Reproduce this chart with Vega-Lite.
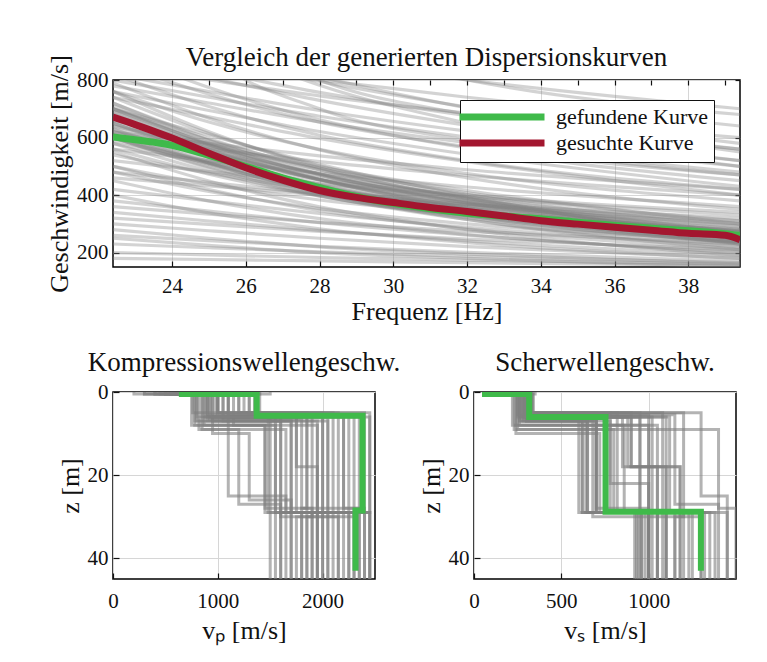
{
"$schema": "https://vega.github.io/schema/vega-lite/v6.json",
"background": "white",
"padding": {"left": 45, "top": 42, "right": 5, "bottom": 5},
"config": {
 "font": "Liberation Serif",
 "view": {"stroke": "black", "strokeWidth": 1.5},
 "axis": {"labelFont": "Liberation Serif", "titleFont": "Liberation Serif", "labelFontSize": 21, "titleFontSize": 26, "titleFontWeight": "normal", "labelColor": "#111", "titleColor": "#111", "domain": false, "tickColor": "#111", "tickSize": -6, "tickWidth": 1.2, "labelPadding": 11, "gridColor": "#d6d6d6", "gridWidth": 1, "labelOverlap": false, "labelFlush": false},
 "axisX": {"labelPadding": 17, "titlePadding": 6},
 "title": {"font": "Liberation Serif", "fontWeight": "normal", "fontSize": 27, "color": "#111"},
 "legend": {"labelFont": "Liberation Serif"}
},
"datasets": {
 "disp": [
{"c":1,"f":22.4,"v":680},{"c":1,"f":25,"v":560},{"c":1,"f":28,"v":452},{"c":1,"f":32,"v":358},{"c":1,"f":39.4,"v":250},
{"c":2,"f":22.4,"v":650},{"c":2,"f":25,"v":535},{"c":2,"f":28,"v":433},{"c":2,"f":32,"v":343},{"c":2,"f":39.4,"v":240},
{"c":3,"f":22.4,"v":700},{"c":3,"f":25,"v":578},{"c":3,"f":28,"v":469},{"c":3,"f":32,"v":374},{"c":3,"f":39.4,"v":265},
{"c":4,"f":22.4,"v":620},{"c":4,"f":25,"v":511},{"c":4,"f":28,"v":413},{"c":4,"f":32,"v":328},{"c":4,"f":39.4,"v":230},
{"c":5,"f":22.4,"v":720},{"c":5,"f":25,"v":597},{"c":5,"f":28,"v":487},{"c":5,"f":32,"v":390},{"c":5,"f":39.4,"v":280},
{"c":6,"f":22.4,"v":600},{"c":6,"f":25,"v":494},{"c":6,"f":28,"v":399},{"c":6,"f":32,"v":315},{"c":6,"f":39.4,"v":220},
{"c":7,"f":22.4,"v":660},{"c":7,"f":25,"v":551},{"c":7,"f":28,"v":453},{"c":7,"f":32,"v":368},{"c":7,"f":39.4,"v":270},
{"c":8,"f":22.4,"v":640},{"c":8,"f":25,"v":532},{"c":8,"f":28,"v":436},{"c":8,"f":32,"v":351},{"c":8,"f":39.4,"v":255},
{"c":9,"f":22.4,"v":690},{"c":9,"f":25,"v":565},{"c":9,"f":28,"v":454},{"c":9,"f":32,"v":356},{"c":9,"f":39.4,"v":245},
{"c":10,"f":22.4,"v":610},{"c":10,"f":25,"v":512},{"c":10,"f":28,"v":425},{"c":10,"f":32,"v":348},{"c":10,"f":39.4,"v":260},
{"c":11,"f":22.4,"v":740},{"c":11,"f":25,"v":614},{"c":11,"f":28,"v":502},{"c":11,"f":32,"v":403},{"c":11,"f":39.4,"v":290},
{"c":12,"f":22.4,"v":580},{"c":12,"f":25,"v":483},{"c":12,"f":28,"v":397},{"c":12,"f":32,"v":321},{"c":12,"f":39.4,"v":235},
{"c":13,"f":22.4,"v":670},{"c":13,"f":25,"v":566},{"c":13,"f":28,"v":474},{"c":13,"f":32,"v":393},{"c":13,"f":39.4,"v":300},
{"c":14,"f":22.4,"v":630},{"c":14,"f":25,"v":512},{"c":14,"f":28,"v":407},{"c":14,"f":32,"v":315},{"c":14,"f":39.4,"v":210},
{"c":15,"f":22.4,"v":710},{"c":15,"f":25,"v":576},{"c":15,"f":28,"v":456},{"c":15,"f":32,"v":350},{"c":15,"f":39.4,"v":230},
{"c":16,"f":22.4,"v":560},{"c":16,"f":25,"v":473},{"c":16,"f":28,"v":396},{"c":16,"f":32,"v":328},{"c":16,"f":39.4,"v":250},
{"c":17,"f":22.4,"v":650},{"c":17,"f":25,"v":546},{"c":17,"f":28,"v":454},{"c":17,"f":32,"v":373},{"c":17,"f":39.4,"v":280},
{"c":18,"f":22.4,"v":700},{"c":18,"f":25,"v":591},{"c":18,"f":28,"v":493},{"c":18,"f":32,"v":408},{"c":18,"f":39.4,"v":310},
{"c":19,"f":22.4,"v":600},{"c":19,"f":25,"v":509},{"c":19,"f":28,"v":428},{"c":19,"f":32,"v":356},{"c":19,"f":39.4,"v":275},
{"c":20,"f":22.4,"v":760},{"c":20,"f":25,"v":620},{"c":20,"f":28,"v":495},{"c":20,"f":32,"v":385},{"c":20,"f":39.4,"v":260},
{"c":21,"f":22.4,"v":660},{"c":21,"f":25,"v":578},{"c":21,"f":28,"v":488},{"c":21,"f":32,"v":389},{"c":21,"f":39.4,"v":250},
{"c":22,"f":22.4,"v":620},{"c":22,"f":25,"v":550},{"c":22,"f":28,"v":473},{"c":22,"f":32,"v":389},{"c":22,"f":39.4,"v":270},
{"c":23,"f":22.4,"v":700},{"c":23,"f":25,"v":608},{"c":23,"f":28,"v":507},{"c":23,"f":32,"v":396},{"c":23,"f":39.4,"v":240},
{"c":24,"f":22.4,"v":590},{"c":24,"f":25,"v":518},{"c":24,"f":28,"v":439},{"c":24,"f":32,"v":352},{"c":24,"f":39.4,"v":230},
{"c":25,"f":22.4,"v":640},{"c":25,"f":25,"v":572},{"c":25,"f":28,"v":497},{"c":25,"f":32,"v":416},{"c":25,"f":39.4,"v":300},
{"c":26,"f":22.4,"v":820},{"c":26,"f":25,"v":760},{"c":26,"f":28,"v":694},{"c":26,"f":32,"v":622},{"c":26,"f":39.4,"v":520},
{"c":27,"f":22.4,"v":900},{"c":27,"f":25,"v":832},{"c":27,"f":28,"v":757},{"c":27,"f":32,"v":676},{"c":27,"f":39.4,"v":560},
{"c":28,"f":22.4,"v":780},{"c":28,"f":25,"v":720},{"c":28,"f":28,"v":654},{"c":28,"f":32,"v":582},{"c":28,"f":39.4,"v":480},
{"c":29,"f":22.4,"v":850},{"c":29,"f":25,"v":800},{"c":29,"f":28,"v":745},{"c":29,"f":32,"v":685},{"c":29,"f":39.4,"v":600},
{"c":30,"f":22.4,"v":760},{"c":30,"f":25,"v":694},{"c":30,"f":28,"v":621},{"c":30,"f":32,"v":542},{"c":30,"f":39.4,"v":430},
{"c":31,"f":22.4,"v":950},{"c":31,"f":25,"v":876},{"c":31,"f":28,"v":795},{"c":31,"f":32,"v":706},{"c":31,"f":39.4,"v":580},
{"c":32,"f":22.4,"v":800},{"c":32,"f":25,"v":740},{"c":32,"f":28,"v":674},{"c":32,"f":32,"v":602},{"c":32,"f":39.4,"v":500},
{"c":33,"f":22.4,"v":740},{"c":33,"f":25,"v":672},{"c":33,"f":28,"v":597},{"c":33,"f":32,"v":516},{"c":33,"f":39.4,"v":400},
{"c":34,"f":22.4,"v":880},{"c":34,"f":25,"v":808},{"c":34,"f":28,"v":729},{"c":34,"f":32,"v":642},{"c":34,"f":39.4,"v":520},
{"c":35,"f":22.4,"v":1000},{"c":35,"f":25,"v":910},{"c":35,"f":28,"v":811},{"c":35,"f":32,"v":703},{"c":35,"f":39.4,"v":550},
{"c":36,"f":22.4,"v":820},{"c":36,"f":25,"v":708},{"c":36,"f":28,"v":608},{"c":36,"f":32,"v":520},{"c":36,"f":39.4,"v":420},
{"c":37,"f":22.4,"v":900},{"c":37,"f":25,"v":774},{"c":37,"f":28,"v":662},{"c":37,"f":32,"v":563},{"c":37,"f":39.4,"v":450},
{"c":38,"f":22.4,"v":760},{"c":38,"f":25,"v":654},{"c":38,"f":28,"v":559},{"c":38,"f":32,"v":475},{"c":38,"f":39.4,"v":380},
{"c":39,"f":22.4,"v":860},{"c":39,"f":25,"v":751},{"c":39,"f":28,"v":653},{"c":39,"f":32,"v":568},{"c":39,"f":39.4,"v":470},
{"c":40,"f":22.4,"v":1100},{"c":40,"f":25,"v":932},{"c":40,"f":28,"v":782},{"c":40,"f":32,"v":650},{"c":40,"f":39.4,"v":500},
{"c":41,"f":22.4,"v":790},{"c":41,"f":25,"v":667},{"c":41,"f":28,"v":557},{"c":41,"f":32,"v":460},{"c":41,"f":39.4,"v":350},
{"c":42,"f":22.4,"v":520},{"c":42,"f":25,"v":482},{"c":42,"f":28,"v":440},{"c":42,"f":32,"v":395},{"c":42,"f":39.4,"v":330},
{"c":43,"f":22.4,"v":560},{"c":43,"f":25,"v":520},{"c":43,"f":28,"v":476},{"c":43,"f":32,"v":428},{"c":43,"f":39.4,"v":360},
{"c":44,"f":22.4,"v":480},{"c":44,"f":25,"v":444},{"c":44,"f":28,"v":404},{"c":44,"f":32,"v":361},{"c":44,"f":39.4,"v":300},
{"c":45,"f":22.4,"v":600},{"c":45,"f":25,"v":560},{"c":45,"f":28,"v":516},{"c":45,"f":32,"v":468},{"c":45,"f":39.4,"v":400},
{"c":46,"f":22.4,"v":540},{"c":46,"f":25,"v":476},{"c":46,"f":28,"v":418},{"c":46,"f":32,"v":368},{"c":46,"f":39.4,"v":310},
{"c":47,"f":22.4,"v":500},{"c":47,"f":25,"v":438},{"c":47,"f":28,"v":383},{"c":47,"f":32,"v":335},{"c":47,"f":39.4,"v":280},
{"c":48,"f":22.4,"v":580},{"c":48,"f":25,"v":513},{"c":48,"f":28,"v":453},{"c":48,"f":32,"v":400},{"c":48,"f":39.4,"v":340},
{"c":49,"f":22.4,"v":460},{"c":49,"f":25,"v":432},{"c":49,"f":28,"v":401},{"c":49,"f":32,"v":368},{"c":49,"f":39.4,"v":320},
{"c":50,"f":22.4,"v":620},{"c":50,"f":25,"v":580},{"c":50,"f":28,"v":536},{"c":50,"f":32,"v":488},{"c":50,"f":39.4,"v":420},
{"c":51,"f":22.4,"v":420},{"c":51,"f":25,"v":380},{"c":51,"f":28,"v":336},{"c":51,"f":32,"v":288},{"c":51,"f":39.4,"v":220},
{"c":52,"f":22.4,"v":380},{"c":52,"f":25,"v":344},{"c":52,"f":28,"v":304},{"c":52,"f":32,"v":261},{"c":52,"f":39.4,"v":200},
{"c":53,"f":22.4,"v":340},{"c":53,"f":25,"v":310},{"c":53,"f":28,"v":277},{"c":53,"f":32,"v":241},{"c":53,"f":39.4,"v":190},
{"c":54,"f":22.4,"v":300},{"c":54,"f":25,"v":276},{"c":54,"f":28,"v":250},{"c":54,"f":32,"v":221},{"c":54,"f":39.4,"v":180},
{"c":55,"f":22.4,"v":260},{"c":55,"f":25,"v":242},{"c":55,"f":28,"v":222},{"c":55,"f":32,"v":201},{"c":55,"f":39.4,"v":170},
{"c":56,"f":22.4,"v":450},{"c":56,"f":25,"v":380},{"c":56,"f":28,"v":318},{"c":56,"f":32,"v":263},{"c":56,"f":39.4,"v":200},
{"c":57,"f":22.4,"v":400},{"c":57,"f":25,"v":338},{"c":57,"f":28,"v":283},{"c":57,"f":32,"v":235},{"c":57,"f":39.4,"v":180},
{"c":58,"f":22.4,"v":500},{"c":58,"f":25,"v":419},{"c":58,"f":28,"v":346},{"c":58,"f":32,"v":283},{"c":58,"f":39.4,"v":210},
{"c":59,"f":22.4,"v":230},{"c":59,"f":25,"v":217},{"c":59,"f":28,"v":203},{"c":59,"f":32,"v":187},{"c":59,"f":39.4,"v":165},
{"c":60,"f":22.4,"v":360},{"c":60,"f":25,"v":334},{"c":60,"f":28,"v":305},{"c":60,"f":32,"v":274},{"c":60,"f":39.4,"v":230},
{"c":61,"f":22.4,"v":200},{"c":61,"f":25,"v":192},{"c":61,"f":28,"v":183},{"c":61,"f":32,"v":174},{"c":61,"f":39.4,"v":160},
{"c":62,"f":22.4,"v":480},{"c":62,"f":25,"v":413},{"c":62,"f":28,"v":353},{"c":62,"f":32,"v":300},{"c":62,"f":39.4,"v":240},
{"c":63,"f":22.4,"v":320},{"c":63,"f":25,"v":298},{"c":63,"f":28,"v":274},{"c":63,"f":32,"v":247},{"c":63,"f":39.4,"v":210},
{"c":64,"f":22.4,"v":550},{"c":64,"f":25,"v":449},{"c":64,"f":28,"v":359},{"c":64,"f":32,"v":280},{"c":64,"f":39.4,"v":190},
{"c":65,"f":22.4,"v":1200},{"c":65,"f":25,"v":1050},{"c":65,"f":28,"v":920},{"c":65,"f":32,"v":800},{"c":65,"f":39.4,"v":680},
{"c":66,"f":22.4,"v":980},{"c":66,"f":25,"v":930},{"c":66,"f":28,"v":870},{"c":66,"f":32,"v":800},{"c":66,"f":39.4,"v":700},
{"c":67,"f":22.4,"v":870},{"c":67,"f":25,"v":840},{"c":67,"f":28,"v":800},{"c":67,"f":32,"v":740},{"c":67,"f":39.4,"v":640},
{"c":68,"f":22.4,"v":1300},{"c":68,"f":25,"v":1000},{"c":68,"f":28,"v":800},{"c":68,"f":32,"v":680},{"c":68,"f":39.4,"v":560},
{"c":69,"f":22.4,"v":1500},{"c":69,"f":25,"v":900},{"c":69,"f":28,"v":700},{"c":69,"f":32,"v":590},{"c":69,"f":39.4,"v":470},
{"c":70,"f":22.4,"v":180},{"c":70,"f":25,"v":176},{"c":70,"f":28,"v":171},{"c":70,"f":32,"v":165},{"c":70,"f":39.4,"v":155},
{"c":71,"f":22.4,"v":250},{"c":71,"f":25,"v":225},{"c":71,"f":28,"v":200},{"c":71,"f":32,"v":180},{"c":71,"f":39.4,"v":150},
{"c":72,"f":22.4,"v":280},{"c":72,"f":25,"v":250},{"c":72,"f":28,"v":220},{"c":72,"f":32,"v":195},{"c":72,"f":39.4,"v":160},
{"c":73,"f":22.4,"v":670},{"c":73,"f":25,"v":556},{"c":73,"f":28,"v":454},{"c":73,"f":32,"v":364},{"c":73,"f":39.4,"v":262},
{"c":74,"f":22.4,"v":630},{"c":74,"f":25,"v":524},{"c":74,"f":28,"v":429},{"c":74,"f":32,"v":345},{"c":74,"f":39.4,"v":250},
{"c":75,"f":22.4,"v":690},{"c":75,"f":25,"v":574},{"c":75,"f":28,"v":470},{"c":75,"f":32,"v":379},{"c":75,"f":39.4,"v":275},
{"c":76,"f":22.4,"v":610},{"c":76,"f":25,"v":506},{"c":76,"f":28,"v":414},{"c":76,"f":32,"v":333},{"c":76,"f":39.4,"v":240},
{"c":77,"f":22.4,"v":720},{"c":77,"f":25,"v":590},{"c":77,"f":28,"v":474},{"c":77,"f":32,"v":371},{"c":77,"f":39.4,"v":255},
{"c":78,"f":22.4,"v":650},{"c":78,"f":25,"v":549},{"c":78,"f":28,"v":459},{"c":78,"f":32,"v":380},{"c":78,"f":39.4,"v":290},
{"c":79,"f":22.4,"v":600},{"c":79,"f":25,"v":498},{"c":79,"f":28,"v":407},{"c":79,"f":32,"v":326},{"c":79,"f":39.4,"v":235},
{"c":80,"f":22.4,"v":700},{"c":80,"f":25,"v":580},{"c":80,"f":28,"v":472},{"c":80,"f":32,"v":378},{"c":80,"f":39.4,"v":270}
 ],
 "ref": [
{"k":"gefundene Kurve","f":22.4,"v":602},{"k":"gefundene Kurve","f":23,"v":592},{"k":"gefundene Kurve","f":24,"v":573},{"k":"gefundene Kurve","f":25,"v":538},{"k":"gefundene Kurve","f":26,"v":500},{"k":"gefundene Kurve","f":27,"v":460},{"k":"gefundene Kurve","f":28,"v":426},{"k":"gefundene Kurve","f":29,"v":395},{"k":"gefundene Kurve","f":30,"v":371},{"k":"gefundene Kurve","f":31,"v":352},{"k":"gefundene Kurve","f":32,"v":337},{"k":"gefundene Kurve","f":33,"v":327},{"k":"gefundene Kurve","f":34,"v":318},{"k":"gefundene Kurve","f":35,"v":306},{"k":"gefundene Kurve","f":36,"v":294},{"k":"gefundene Kurve","f":37,"v":285},{"k":"gefundene Kurve","f":38,"v":276},{"k":"gefundene Kurve","f":39,"v":266},{"k":"gefundene Kurve","f":39.4,"v":260},
{"k":"gesuchte Kurve","f":22.4,"v":671},{"k":"gesuchte Kurve","f":23,"v":645},{"k":"gesuchte Kurve","f":24,"v":598},{"k":"gesuchte Kurve","f":25,"v":545},{"k":"gesuchte Kurve","f":26,"v":495},{"k":"gesuchte Kurve","f":27,"v":452},{"k":"gesuchte Kurve","f":28,"v":416},{"k":"gesuchte Kurve","f":29,"v":392},{"k":"gesuchte Kurve","f":30,"v":374},{"k":"gesuchte Kurve","f":31,"v":357},{"k":"gesuchte Kurve","f":32,"v":343},{"k":"gesuchte Kurve","f":33,"v":327},{"k":"gesuchte Kurve","f":34,"v":311},{"k":"gesuchte Kurve","f":35,"v":299},{"k":"gesuchte Kurve","f":36,"v":288},{"k":"gesuchte Kurve","f":37,"v":278},{"k":"gesuchte Kurve","f":38,"v":267},{"k":"gesuchte Kurve","f":39,"v":260},{"k":"gesuchte Kurve","f":39.4,"v":245}
 ],
 "vp": [
{"p":1,"z":0,"v":400},{"p":1,"z":0.5,"v":800},{"p":1,"z":6,"v":1500},{"p":1,"z":29,"v":1800},{"p":1,"z":45,"v":1800},
{"p":2,"z":0,"v":600},{"p":2,"z":0.5,"v":900},{"p":2,"z":7,"v":1700},{"p":2,"z":29,"v":2000},{"p":2,"z":45,"v":2000},
{"p":3,"z":0,"v":200},{"p":3,"z":0.5,"v":750},{"p":3,"z":8,"v":1450},{"p":3,"z":28,"v":1900},{"p":3,"z":45,"v":1900},
{"p":4,"z":0,"v":900},{"p":4,"z":0.5,"v":1000},{"p":4,"z":5,"v":2100},{"p":4,"z":29,"v":2300},{"p":4,"z":45,"v":2300},
{"p":5,"z":0,"v":1200},{"p":5,"z":0.5,"v":1300},{"p":5,"z":6,"v":2450},{"p":5,"z":29,"v":2450},{"p":5,"z":45,"v":2450},
{"p":6,"z":0,"v":700},{"p":6,"z":0.5,"v":850},{"p":6,"z":9,"v":1200},{"p":6,"z":27,"v":1600},{"p":6,"z":45,"v":1600},
{"p":7,"z":0,"v":500},{"p":7,"z":0.5,"v":1100},{"p":7,"z":5.5,"v":1900},{"p":7,"z":30,"v":1850},{"p":7,"z":45,"v":1850},
{"p":8,"z":0,"v":1000},{"p":8,"z":0.5,"v":1400},{"p":8,"z":6,"v":2200},{"p":8,"z":28,"v":2400},{"p":8,"z":45,"v":2400},
{"p":9,"z":0,"v":800},{"p":9,"z":0.5,"v":950},{"p":9,"z":10,"v":1300},{"p":9,"z":26,"v":1700},{"p":9,"z":45,"v":1700},
{"p":10,"z":0,"v":1400},{"p":10,"z":0.5,"v":780},{"p":10,"z":7,"v":1600},{"p":10,"z":29,"v":1950},{"p":10,"z":45,"v":1950},
{"p":11,"z":0,"v":650},{"p":11,"z":0.5,"v":1200},{"p":11,"z":5,"v":2000},{"p":11,"z":29,"v":2200},{"p":11,"z":45,"v":2200},
{"p":12,"z":0,"v":300},{"p":12,"z":0.5,"v":870},{"p":12,"z":8,"v":1550},{"p":12,"z":29,"v":2100},{"p":12,"z":45,"v":2100},
{"p":13,"z":0,"v":1100},{"p":13,"z":0.5,"v":1350},{"p":13,"z":5.5,"v":2300},{"p":13,"z":30,"v":1750},{"p":13,"z":45,"v":1750},
{"p":14,"z":0,"v":750},{"p":14,"z":0.5,"v":920},{"p":14,"z":6.5,"v":1800},{"p":14,"z":28,"v":2350},{"p":14,"z":45,"v":2350},
{"p":15,"z":0,"v":550},{"p":15,"z":0.5,"v":1050},{"p":15,"z":7,"v":1100},{"p":15,"z":25,"v":1650},{"p":15,"z":45,"v":1650},
{"p":16,"z":0,"v":950},{"p":16,"z":0.5,"v":820},{"p":16,"z":9,"v":1650},{"p":16,"z":29,"v":2450},{"p":16,"z":45,"v":2450},
{"p":17,"z":0,"v":1300},{"p":17,"z":0.5,"v":1250},{"p":17,"z":5,"v":2400},{"p":17,"z":29,"v":2250},{"p":17,"z":45,"v":2250},
{"p":18,"z":0,"v":450},{"p":18,"z":0.5,"v":980},{"p":18,"z":6,"v":1750},{"p":18,"z":18,"v":1950},{"p":18,"z":45,"v":1950},
{"p":19,"z":0,"v":850},{"p":19,"z":0.5,"v":1150},{"p":19,"z":8,"v":1950},{"p":19,"z":29,"v":2050},{"p":19,"z":45,"v":2050},
{"p":20,"z":0,"v":1500},{"p":20,"z":0.5,"v":760},{"p":20,"z":5,"v":1480},{"p":20,"z":29,"v":1500},{"p":20,"z":45,"v":1500},
{"p":21,"z":0,"v":700},{"p":21,"z":0.5,"v":900},{"p":21,"z":5.5,"v":2250},{"p":21,"z":29,"v":1900},{"p":21,"z":45,"v":1900},
{"p":22,"z":0,"v":900},{"p":22,"z":0.5,"v":1050},{"p":22,"z":6,"v":1600},{"p":22,"z":30,"v":2150},{"p":22,"z":45,"v":2150},
{"p":23,"z":0,"v":600},{"p":23,"z":0.5,"v":800},{"p":23,"z":7,"v":2050},{"p":23,"z":29,"v":1600},{"p":23,"z":45,"v":1600},
{"p":24,"z":0,"v":1100},{"p":24,"z":0.5,"v":1000},{"p":24,"z":5,"v":1850},{"p":24,"z":29,"v":2300},{"p":24,"z":45,"v":2300},
{"p":25,"z":0,"v":800},{"p":25,"z":0.5,"v":900},{"p":25,"z":6,"v":1550},{"p":25,"z":29,"v":2450},{"p":25,"z":45,"v":2450},
{"p":26,"z":0,"v":400},{"p":26,"z":0.5,"v":1000},{"p":26,"z":5,"v":2150},{"p":26,"z":29,"v":1700},{"p":26,"z":45,"v":1700},
{"p":27,"z":0,"v":1000},{"p":27,"z":0.5,"v":850},{"p":27,"z":6,"v":1750},{"p":27,"z":29,"v":2150},{"p":27,"z":45,"v":2150},
{"p":28,"z":0,"v":700},{"p":28,"z":0.5,"v":1300},{"p":28,"z":5.5,"v":2350},{"p":28,"z":29,"v":2000},{"p":28,"z":45,"v":2000},
{"p":29,"z":0,"v":500},{"p":29,"z":0.5,"v":950},{"p":29,"z":7,"v":1950},{"p":29,"z":29,"v":1850},{"p":29,"z":45,"v":1850},
{"p":30,"z":0,"v":1200},{"p":30,"z":0.5,"v":1100},{"p":30,"z":6,"v":2050},{"p":30,"z":29,"v":2350},{"p":30,"z":45,"v":2350},
{"p":31,"z":0,"v":900},{"p":31,"z":0.5,"v":780},{"p":31,"z":8,"v":1450},{"p":31,"z":29,"v":1550},{"p":31,"z":45,"v":1550},
{"p":32,"z":0,"v":300},{"p":32,"z":0.5,"v":1200},{"p":32,"z":5,"v":2450},{"p":32,"z":29,"v":2250},{"p":32,"z":45,"v":2250},
{"p":33,"z":0,"v":650},{"p":33,"z":0.5,"v":880},{"p":33,"z":6,"v":1850},{"p":33,"z":28,"v":1800},{"p":33,"z":45,"v":1800},
{"p":34,"z":0,"v":1150},{"p":34,"z":0.5,"v":1000},{"p":34,"z":5.5,"v":2200},{"p":34,"z":29,"v":2050},{"p":34,"z":45,"v":2050},
{"p":35,"z":0,"v":850},{"p":35,"z":0.5,"v":1100},{"p":35,"z":7,"v":1700},{"p":35,"z":29,"v":2400},{"p":35,"z":45,"v":2400},
{"p":36,"z":0,"v":550},{"p":36,"z":0.5,"v":930},{"p":36,"z":6,"v":2000},{"p":36,"z":29,"v":1950},{"p":36,"z":45,"v":1950}
 ],
 "vpg": [
{"z":0,"v":657},{"z":0.5,"v":1371},{"z":5.7,"v":2381},{"z":28.5,"v":2314},{"z":43,"v":2314}
 ],
 "vs": [
{"p":1,"z":0,"v":100},{"p":1,"z":0.5,"v":250},{"p":1,"z":6,"v":650},{"p":1,"z":29,"v":950},{"p":1,"z":45,"v":950},
{"p":2,"z":0,"v":200},{"p":2,"z":0.5,"v":300},{"p":2,"z":7,"v":700},{"p":2,"z":28,"v":1000},{"p":2,"z":45,"v":1000},
{"p":3,"z":0,"v":150},{"p":3,"z":0.5,"v":230},{"p":3,"z":9,"v":800},{"p":3,"z":29,"v":1100},{"p":3,"z":45,"v":1100},
{"p":4,"z":0,"v":300},{"p":4,"z":0.5,"v":330},{"p":4,"z":5,"v":900},{"p":4,"z":18,"v":1050},{"p":4,"z":45,"v":1050},
{"p":5,"z":0,"v":80},{"p":5,"z":0.5,"v":280},{"p":5,"z":6,"v":620},{"p":5,"z":29,"v":920},{"p":5,"z":45,"v":920},
{"p":6,"z":0,"v":250},{"p":6,"z":0.5,"v":260},{"p":6,"z":8,"v":1000},{"p":6,"z":29,"v":1200},{"p":6,"z":45,"v":1200},
{"p":7,"z":0,"v":350},{"p":7,"z":0.5,"v":310},{"p":7,"z":5.5,"v":1150},{"p":7,"z":27,"v":1400},{"p":7,"z":45,"v":1400},
{"p":8,"z":0,"v":120},{"p":8,"z":0.5,"v":240},{"p":8,"z":10,"v":720},{"p":8,"z":29,"v":980},{"p":8,"z":45,"v":980},
{"p":9,"z":0,"v":180},{"p":9,"z":0.5,"v":290},{"p":9,"z":6,"v":850},{"p":9,"z":18,"v":1100},{"p":9,"z":45,"v":1100},
{"p":10,"z":0,"v":220},{"p":10,"z":0.5,"v":340},{"p":10,"z":5,"v":1300},{"p":10,"z":25,"v":1450},{"p":10,"z":45,"v":1450},
{"p":11,"z":0,"v":60},{"p":11,"z":0.5,"v":270},{"p":11,"z":7,"v":680},{"p":11,"z":30,"v":1300},{"p":11,"z":45,"v":1300},
{"p":12,"z":0,"v":280},{"p":12,"z":0.5,"v":320},{"p":12,"z":6,"v":950},{"p":12,"z":29,"v":1050},{"p":12,"z":45,"v":1050},
{"p":13,"z":0,"v":330},{"p":13,"z":0.5,"v":250},{"p":13,"z":9,"v":1400},{"p":13,"z":28,"v":1500},{"p":13,"z":45,"v":1500},
{"p":14,"z":0,"v":140},{"p":14,"z":0.5,"v":300},{"p":14,"z":5.5,"v":760},{"p":14,"z":29,"v":1250},{"p":14,"z":45,"v":1250},
{"p":15,"z":0,"v":260},{"p":15,"z":0.5,"v":220},{"p":15,"z":8,"v":1050},{"p":15,"z":29,"v":1350},{"p":15,"z":45,"v":1350},
{"p":16,"z":0,"v":90},{"p":16,"z":0.5,"v":285},{"p":16,"z":6.5,"v":600},{"p":16,"z":29,"v":930},{"p":16,"z":45,"v":930},
{"p":17,"z":0,"v":310},{"p":17,"z":0.5,"v":335},{"p":17,"z":5,"v":1200},{"p":17,"z":30,"v":1150},{"p":17,"z":45,"v":1150},
{"p":18,"z":0,"v":170},{"p":18,"z":0.5,"v":260},{"p":18,"z":7,"v":780},{"p":18,"z":22,"v":1000},{"p":18,"z":45,"v":1000},
{"p":19,"z":0,"v":240},{"p":19,"z":0.5,"v":310},{"p":19,"z":6,"v":1100},{"p":19,"z":29,"v":1450},{"p":19,"z":45,"v":1450},
{"p":20,"z":0,"v":200},{"p":20,"z":0.5,"v":295},{"p":20,"z":5,"v":700},{"p":20,"z":29,"v":1020},{"p":20,"z":45,"v":1020},
{"p":21,"z":0,"v":130},{"p":21,"z":0.5,"v":320},{"p":21,"z":5.5,"v":1000},{"p":21,"z":29,"v":960},{"p":21,"z":45,"v":960},
{"p":22,"z":0,"v":210},{"p":22,"z":0.5,"v":270},{"p":22,"z":6,"v":880},{"p":22,"z":18,"v":1180},{"p":22,"z":45,"v":1180},
{"p":23,"z":0,"v":270},{"p":23,"z":0.5,"v":300},{"p":23,"z":7,"v":650},{"p":23,"z":29,"v":1000},{"p":23,"z":45,"v":1000},
{"p":24,"z":0,"v":160},{"p":24,"z":0.5,"v":290},{"p":24,"z":5,"v":1080},{"p":24,"z":29,"v":1320},{"p":24,"z":45,"v":1320},
{"p":25,"z":0,"v":100},{"p":25,"z":0.5,"v":270},{"p":25,"z":6,"v":640},{"p":25,"z":29,"v":1000},{"p":25,"z":45,"v":1000},
{"p":26,"z":0,"v":230},{"p":26,"z":0.5,"v":310},{"p":26,"z":5,"v":820},{"p":26,"z":29,"v":1100},{"p":26,"z":45,"v":1100},
{"p":27,"z":0,"v":150},{"p":27,"z":0.5,"v":260},{"p":27,"z":7,"v":700},{"p":27,"z":29,"v":940},{"p":27,"z":45,"v":940},
{"p":28,"z":0,"v":300},{"p":28,"z":0.5,"v":300},{"p":28,"z":6,"v":900},{"p":28,"z":18,"v":1180},{"p":28,"z":45,"v":1180},
{"p":29,"z":0,"v":80},{"p":29,"z":0.5,"v":250},{"p":29,"z":5.5,"v":760},{"p":29,"z":29,"v":1050},{"p":29,"z":45,"v":1050},
{"p":30,"z":0,"v":260},{"p":30,"z":0.5,"v":330},{"p":30,"z":6,"v":1020},{"p":30,"z":29,"v":1230},{"p":30,"z":45,"v":1230},
{"p":31,"z":0,"v":190},{"p":31,"z":0.5,"v":280},{"p":31,"z":7,"v":620},{"p":31,"z":29,"v":1380},{"p":31,"z":45,"v":1380},
{"p":32,"z":0,"v":120},{"p":32,"z":0.5,"v":300},{"p":32,"z":5,"v":950},{"p":32,"z":29,"v":1080},{"p":32,"z":45,"v":1080},
{"p":33,"z":0,"v":290},{"p":33,"z":0.5,"v":320},{"p":33,"z":6,"v":700},{"p":33,"z":29,"v":960},{"p":33,"z":45,"v":960},
{"p":34,"z":0,"v":170},{"p":34,"z":0.5,"v":240},{"p":34,"z":8,"v":860},{"p":34,"z":29,"v":1150},{"p":34,"z":45,"v":1150},
{"p":35,"z":0,"v":210},{"p":35,"z":0.5,"v":290},{"p":35,"z":6,"v":1120},{"p":35,"z":29,"v":1000},{"p":35,"z":45,"v":1000},
{"p":36,"z":0,"v":250},{"p":36,"z":0.5,"v":310},{"p":36,"z":5,"v":780},{"p":36,"z":29,"v":1300},{"p":36,"z":45,"v":1300}
 ],
 "vsg": [
{"z":0,"v":63},{"z":0.5,"v":316},{"z":6,"v":753},{"z":28.8,"v":1299},{"z":43,"v":1299}
 ]
},
"spacing": 23,
"resolve": {"scale": {"color": "independent"}, "legend": {"color": "independent"}},
"vconcat": [
 {
  "width": 627, "height": 187,
  "title": {"text": "Vergleich der generierten Dispersionskurven", "offset": -17},
  "resolve": {"axis": {"x": "independent", "y": "independent"}},
  "layer": [
   {"data": {"name": "disp"},
    "mark": {"type": "line", "interpolate": "monotone", "clip": true, "strokeWidth": 3.2, "opacity": 0.35, "color": "#808080"},
    "encoding": {
     "x": {"field": "f", "type": "quantitative", "title": "Frequenz [Hz]", "scale": {"domain": [22.4, 39.4], "nice": false, "zero": false},
       "axis": {"values": [24, 26, 28, 30, 32, 34, 36, 38], "labelPadding": 14, "titlePadding": 2}},
     "y": {"field": "v", "type": "quantitative", "title": "Geschwindigkeit [m/s]", "scale": {"domain": [150, 800], "nice": false, "zero": false},
       "axis": {"values": [200, 400, 600, 800]}},
     "detail": {"field": "c", "type": "nominal"}
    }},
   {"data": {"name": "ref"},
    "mark": {"type": "line", "interpolate": "monotone", "clip": true, "strokeWidth": 7},
    "encoding": {
     "x": {"field": "f", "type": "quantitative", "axis": {"orient": "top", "labels": false, "title": null, "grid": false, "values": [23,24,25,26,27,28,29,30,31,32,33,34,35,36,37,38,39], "tickSize": -5}},
     "y": {"field": "v", "type": "quantitative", "axis": {"orient": "right", "labels": false, "title": null, "grid": false, "values": [200, 400, 600, 800], "tickSize": -5}},
     "color": {"field": "k", "type": "nominal", "scale": {"domain": ["gefundene Kurve", "gesuchte Kurve"], "range": ["#3fba4a", "#a3162f"]},
       "legend": {"title": null, "orient": "none", "legendX": 347, "legendY": 20, "symbolType": "M-5,0H5", "symbolSize": 289, "symbolStrokeWidth": 7, "symbolOffset": 25, "labelOffset": 42, "labelFontSize": 22, "labelColor": "#111", "labelLimit": 300, "fillColor": "white", "strokeColor": "#111", "padding": 5, "rowPadding": -2}}
    }}
  ]
 },
 {
  "hconcat": [
   {
    "width": 262, "height": 187,
    "title": {"text": "Kompressionswellengeschw.", "offset": 4},
    "layer": [
     {"data": {"name": "vp"},
      "mark": {"type": "line", "interpolate": "step-before", "clip": true, "strokeWidth": 3, "opacity": 0.6, "color": "#808080"},
      "encoding": {
       "x": {"field": "v", "type": "quantitative", "title": "vₚ [m/s]", "scale": {"domain": [0, 2500], "nice": false}, "axis": {"values": [0, 1000, 2000], "format": "d"}},
       "y": {"field": "z", "type": "quantitative", "title": "z [m]", "scale": {"domain": [0, 45], "nice": false, "reverse": true}, "axis": {"values": [0, 20, 40]}},
       "detail": {"field": "p", "type": "nominal"},
       "order": {"field": "z", "type": "quantitative"}
      }},
     {"data": {"name": "vpg"},
      "mark": {"type": "line", "interpolate": "step-before", "clip": true, "strokeWidth": 6, "color": "#3fba4a"},
      "encoding": {
       "x": {"field": "v", "type": "quantitative"},
       "y": {"field": "z", "type": "quantitative"},
       "order": {"field": "z", "type": "quantitative"}
      }}
    ]
   },
   {
    "width": 262, "height": 187,
    "title": {"text": "Scherwellengeschw.", "offset": 4},
    "layer": [
     {"data": {"name": "vs"},
      "mark": {"type": "line", "interpolate": "step-before", "clip": true, "strokeWidth": 3, "opacity": 0.6, "color": "#808080"},
      "encoding": {
       "x": {"field": "v", "type": "quantitative", "title": "vₛ [m/s]", "scale": {"domain": [0, 1500], "nice": false}, "axis": {"values": [0, 500, 1000], "format": "d"}},
       "y": {"field": "z", "type": "quantitative", "title": "z [m]", "scale": {"domain": [0, 45], "nice": false, "reverse": true}, "axis": {"values": [0, 20, 40]}},
       "detail": {"field": "p", "type": "nominal"},
       "order": {"field": "z", "type": "quantitative"}
      }},
     {"data": {"name": "vsg"},
      "mark": {"type": "line", "interpolate": "step-before", "clip": true, "strokeWidth": 6, "color": "#3fba4a"},
      "encoding": {
       "x": {"field": "v", "type": "quantitative"},
       "y": {"field": "z", "type": "quantitative"},
       "order": {"field": "z", "type": "quantitative"}
      }}
    ]
   }
  ],
  "spacing": 16
 }
]
}
